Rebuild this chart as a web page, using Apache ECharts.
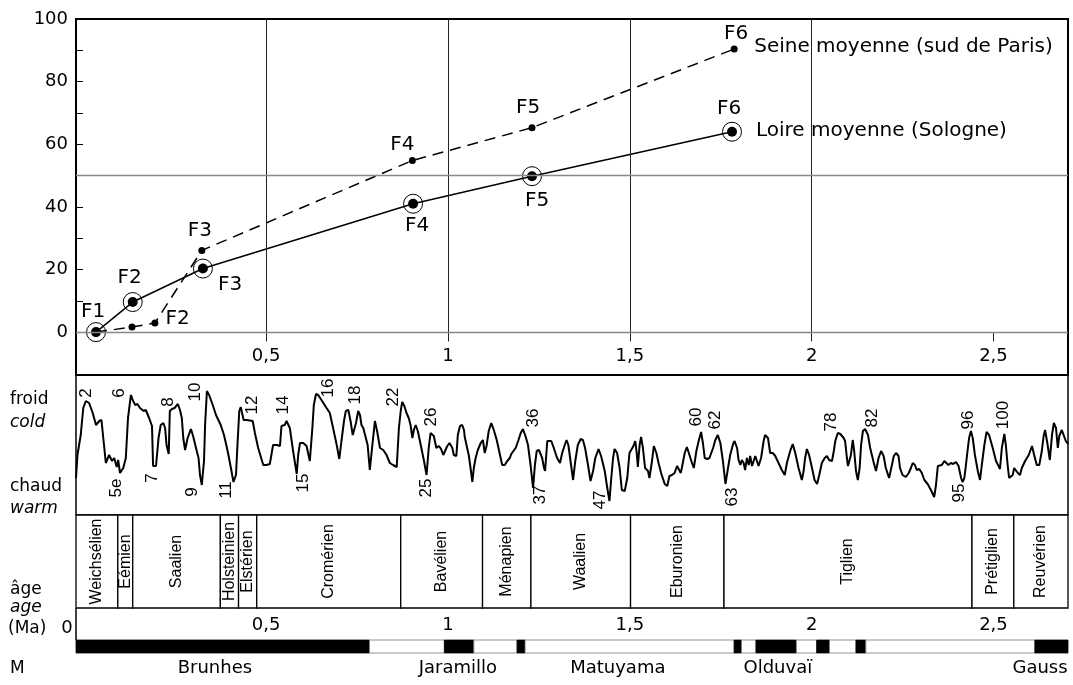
<!DOCTYPE html>
<html>
<head>
<meta charset="utf-8">
<title>Terrasses Loire / Seine</title>
<script src="https://cdn.jsdelivr.net/npm/echarts@6/dist/echarts.min.js"></script>
<style>
  html, body { margin: 0; padding: 0; background: #fff; }
  #main { width: 1073px; height: 685px; }
</style>
</head>
<body>
<div id="main"></div>
<script>
// ---- terraces: age (Ma) / relative height (m)
var loireAges    = [0.032, 0.133, 0.326, 0.904, 1.231, 1.781];
var loireHeights = [0, 9.6, 20.3, 41, 49.8, 64];
var loireLabels  = ['F1', 'F2', 'F3', 'F4', 'F5', 'F6'];

var seineAges    = [0.032, 0.131, 0.194, 0.323, 0.902, 1.231, 1.787];
var seineHeights = [0, 1.6, 2.9, 26.1, 54.8, 65.3, 90.4];
var seineLabels  = ['', '', 'F2', 'F3', 'F4', 'F5', 'F6'];

var heightTicks = [0, 20, 40, 60, 80, 100];
var heightMinorTicks = [0, 10, 20, 30, 40, 50, 60, 70, 80, 90, 100];
var ageTicks = [0.5, 1, 1.5, 2, 2.5];
var gridAges = [0.5, 1, 1.5, 2];
var gridHeights = [0, 50];

// ---- oxygen isotope curve: [age (Ma), relative cold index]
var isoCurve = [[-0.023,37],[-0.019,60],[-0.010,80],[-0.003,107],[0.004,114],[0.013,112],[0.023,102],[0.032,90],[0.041,94],[0.047,95],[0.054,70],[0.059,52],[0.068,60],[0.076,54],[0.082,57],[0.089,48],[0.093,55],[0.098,42],[0.107,47],[0.114,57],[0.120,97],[0.128,120],[0.134,114],[0.140,110],[0.146,111],[0.153,107],[0.158,109],[0.163,104],[0.169,105],[0.178,97],[0.186,89],[0.189,49],[0.197,49],[0.204,77],[0.210,90],[0.217,92],[0.222,87],[0.226,70],[0.232,61],[0.235,104],[0.241,106],[0.248,107],[0.257,111],[0.263,105],[0.268,97],[0.272,77],[0.277,65],[0.284,77],[0.293,86],[0.299,79],[0.307,67],[0.314,57],[0.318,40],[0.323,30],[0.329,54],[0.332,90],[0.337,124],[0.343,120],[0.353,110],[0.362,100],[0.375,90],[0.384,80],[0.394,64],[0.403,47],[0.410,33],[0.417,40],[0.421,70],[0.426,104],[0.430,108],[0.435,100],[0.438,95],[0.446,95],[0.463,94],[0.469,82],[0.478,67],[0.492,50],[0.501,50],[0.510,51],[0.519,70],[0.524,72],[0.530,70],[0.538,69],[0.542,89],[0.547,87],[0.551,90],[0.556,94],[0.561,95],[0.565,87],[0.574,64],[0.584,41],[0.588,60],[0.593,72],[0.602,72],[0.611,69],[0.620,54],[0.627,87],[0.631,110],[0.637,121],[0.643,120],[0.652,115],[0.666,107],[0.675,102],[0.684,87],[0.694,70],[0.701,56],[0.707,74],[0.714,94],[0.719,104],[0.726,105],[0.732,94],[0.738,80],[0.742,79],[0.747,92],[0.753,104],[0.758,100],[0.762,90],[0.767,87],[0.772,87],[0.779,70],[0.785,45],[0.792,70],[0.799,94],[0.805,84],[0.813,67],[0.822,65],[0.831,60],[0.840,52],[0.849,50],[0.859,48],[0.865,87],[0.870,104],[0.874,113],[0.880,109],[0.886,102],[0.892,97],[0.897,90],[0.902,77],[0.906,85],[0.911,90],[0.917,84],[0.925,70],[0.934,54],[0.941,40],[0.947,67],[0.952,82],[0.957,84],[0.961,79],[0.968,67],[0.975,69],[0.981,66],[0.987,60],[0.992,58],[0.998,69],[1.004,72],[1.012,67],[1.016,60],[1.023,59],[1.027,80],[1.033,89],[1.039,90],[1.044,85],[1.046,78],[1.051,78],[1.057,60],[1.062,47],[1.067,33],[1.071,47],[1.076,57],[1.082,65],[1.090,72],[1.096,75],[1.101,62],[1.106,69],[1.112,84],[1.119,92],[1.126,85],[1.134,75],[1.140,65],[1.149,50],[1.156,50],[1.163,54],[1.170,57],[1.174,61],[1.179,62],[1.186,67],[1.193,74],[1.200,82],[1.206,86],[1.213,79],[1.220,70],[1.227,50],[1.234,27],[1.239,50],[1.244,64],[1.250,65],[1.255,64],[1.259,57],[1.264,47],[1.267,44],[1.273,74],[1.278,76],[1.284,74],[1.291,67],[1.300,57],[1.308,52],[1.314,62],[1.321,70],[1.326,75],[1.331,70],[1.344,35],[1.350,54],[1.357,70],[1.365,76],[1.371,75],[1.377,67],[1.385,50],[1.392,34],[1.399,44],[1.405,57],[1.414,66],[1.421,59],[1.431,44],[1.438,27],[1.444,14],[1.449,37],[1.454,57],[1.458,66],[1.465,62],[1.472,47],[1.478,25],[1.486,24],[1.493,37],[1.499,62],[1.504,64],[1.510,69],[1.515,74],[1.519,62],[1.522,48],[1.527,70],[1.531,78],[1.536,67],[1.542,47],[1.550,44],[1.554,37],[1.561,54],[1.566,69],[1.573,62],[1.579,52],[1.586,42],[1.596,31],[1.603,29],[1.609,39],[1.616,40],[1.623,42],[1.630,49],[1.634,49],[1.640,42],[1.643,47],[1.651,62],[1.657,68],[1.664,60],[1.671,52],[1.676,47],[1.683,64],[1.690,75],[1.696,83],[1.701,72],[1.706,57],[1.713,56],[1.719,57],[1.724,57],[1.729,67],[1.735,75],[1.742,80],[1.749,72],[1.756,54],[1.763,31],[1.770,47],[1.776,60],[1.784,71],[1.788,74],[1.795,67],[1.799,55],[1.804,50],[1.808,55],[1.813,52],[1.817,45],[1.822,57],[1.827,50],[1.831,59],[1.836,49],[1.840,48],[1.845,59],[1.850,60],[1.854,49],[1.861,57],[1.868,74],[1.872,80],[1.880,77],[1.886,62],[1.893,62],[1.900,59],[1.909,52],[1.918,45],[1.926,40],[1.932,52],[1.941,64],[1.948,71],[1.955,62],[1.964,47],[1.973,35],[1.978,44],[1.982,57],[1.987,66],[1.993,60],[2.001,47],[2.008,35],[2.015,31],[2.021,40],[2.028,52],[2.036,57],[2.042,59],[2.048,55],[2.056,54],[2.061,64],[2.065,74],[2.072,82],[2.079,81],[2.088,77],[2.092,74],[2.097,57],[2.100,49],[2.103,47],[2.108,60],[2.113,75],[2.117,64],[2.122,44],[2.127,35],[2.132,47],[2.136,70],[2.141,84],[2.147,86],[2.155,80],[2.161,67],[2.171,52],[2.177,44],[2.184,57],[2.191,64],[2.198,59],[2.204,47],[2.213,37],[2.219,47],[2.226,59],[2.232,62],[2.239,59],[2.243,47],[2.250,40],[2.259,38],[2.267,42],[2.273,47],[2.278,52],[2.284,50],[2.289,45],[2.296,46],[2.303,42],[2.310,35],[2.319,31],[2.328,25],[2.337,18],[2.342,30],[2.347,49],[2.351,51],[2.358,50],[2.365,54],[2.369,54],[2.376,50],[2.383,52],[2.389,51],[2.397,53],[2.404,49],[2.411,37],[2.415,33],[2.420,37],[2.424,49],[2.429,65],[2.433,77],[2.438,84],[2.443,77],[2.449,60],[2.457,44],[2.463,35],[2.468,50],[2.475,70],[2.481,83],[2.488,80],[2.498,67],[2.507,54],[2.518,46],[2.523,67],[2.530,81],[2.534,70],[2.539,50],[2.543,37],[2.548,35],[2.553,40],[2.557,47],[2.562,48],[2.567,42],[2.573,40],[2.578,47],[2.587,54],[2.597,60],[2.606,69],[2.612,60],[2.619,50],[2.626,50],[2.633,64],[2.638,79],[2.642,85],[2.649,70],[2.655,55],[2.661,80],[2.666,92],[2.672,87],[2.677,67],[2.681,79],[2.688,85],[2.693,80],[2.699,74],[2.705,71]];

// isotope stage numbers and where they are written
var misNames  = ['2','6','8','10','12','14','16','18','22','26','36','5e','7','9','11','15','25','37','47','60','62','63','78','82','95','96','100'];
var misAges   = [0.006,0.095,0.232,0.304,0.463,0.546,0.670,0.744,0.849,0.953,1.234,0.089,0.186,0.298,0.389,0.601,0.939,1.253,1.418,1.682,1.734,1.781,2.053,2.166,2.405,2.430,2.526];
var misLevels = [122,122,113,123,110,110,127,120,118,98,97,27,37,23,25,32,27,20,15,98,95,18,93,97,22,95,100];

// ---- chronostratigraphic stages (boundaries in Ma)
var stageNames  = ['Weichsélien','Eémien','Saalien','Holsteinien','Elstérien','Cromérien','Bavélien','Ménapien','Waalien','Eburonien','Tiglien','Prétiglien','Reuvérien'];
var stageBounds = [-0.023, 0.092, 0.133, 0.374, 0.424, 0.474, 0.870, 1.095, 1.228, 1.502, 1.759, 2.441, 2.556, 2.705];

// ---- magnetostratigraphy: normal polarity intervals (black), the rest reversed
var normalStarts = [-0.023, 0.990, 1.190, 1.787, 1.847, 2.014, 2.122, 2.614];
var normalEnds   = [0.784, 1.071, 1.212, 1.807, 1.958, 2.049, 2.149, 2.705];
var chronNames = ['Brunhes', 'Jaramillo', 'Matuyama', 'Olduvaï', 'Gauss'];
var chronAges  = [0.359, 1.027, 1.467, 1.907, 2.628];

var AGE_MIN = -0.023, AGE_MAX = 2.705;
var SANS = '"DejaVu Sans", sans-serif';
var NARROW = '"Liberation Sans", Arial, sans-serif';

var minorAgeTicks = [];
for (var t = 1; t <= 26; t++) minorAgeTicks.push(t / 10);

function comma(v) { return String(v).replace('.', ','); }

// label placement of the F-points
var loireLabelStyle = [
    {position: 'top', distance: 5, offset: [-3, 0]},
    {position: 'top', distance: 9, offset: [-3, 0]},
    {position: 'right', distance: 10, offset: [0, 16]},
    {position: 'bottom', distance: 7, offset: [4, 0]},
    {position: 'bottom', distance: 10, offset: [5, 0]},
    {position: 'top', distance: 8, offset: [-3, 0]}
];
var seineLabelStyle = [
    {}, {},
    {position: 'right', distance: 7, offset: [0, -4]},
    {position: 'top', distance: 6, offset: [-2, 0]},
    {position: 'top', distance: 2, offset: [-10, 0]},
    {position: 'top', distance: 6, offset: [-4, 0]},
    {position: 'top', distance: 2, offset: [2, 0]}
];

var loireData = loireAges.map(function (a, i) {
    return {value: [a, loireHeights[i]], name: loireLabels[i],
        label: Object.assign({show: true}, loireLabelStyle[i])};
});
var seineData = seineAges.map(function (a, i) {
    return {value: [a, seineHeights[i]], name: seineLabels[i],
        label: Object.assign({show: seineLabels[i] !== ''}, seineLabelStyle[i])};
});

var stageData = stageNames.map(function (n, i) {
    return {value: [stageBounds[i], stageBounds[i + 1]], name: n};
});

var magData = [];
for (var i = 0; i < normalStarts.length; i++) {
    magData.push({value: [normalStarts[i], normalEnds[i]], normal: true});
    if (i < normalStarts.length - 1) {
        magData.push({value: [normalEnds[i], normalStarts[i + 1]], normal: false});
    }
}

// reference lines of the upper panel: verticals hang a little below 0 like ticks
var refLines = gridAges.map(function (a) {
    return [{coord: [a, -3]}, {coord: [a, 100]}];
});
refLines.push([{coord: [2.5, -3]}, {coord: [2.5, 0]}]);
gridHeights.forEach(function (h) {
    refLines.push({yAxis: h, lineStyle: {color: '#888', width: 1.3}});
});

var myChart = echarts.init(document.getElementById('main'));

function hiddenX(idx) {
    return {gridIndex: idx, type: 'value', min: AGE_MIN, max: AGE_MAX, show: false};
}
function hiddenY(idx, min, max) {
    return {gridIndex: idx, type: 'value', min: min, max: max, show: false};
}

var option = {
    animation: false,
    backgroundColor: '#fff',
    textStyle: {fontFamily: SANS, color: '#000'},
    grid: [
        {left: 76, right: 5, top: 19, height: 356, show: true, borderColor: '#000', borderWidth: 2},
        {left: 76, right: 5, top: 375, height: 140, show: true, borderColor: '#000', borderWidth: 1.5},
        {left: 76, right: 5, top: 515, height: 93},
        {left: 76, right: 5, top: 640, height: 13}
    ],
    xAxis: [
        {
            gridIndex: 0, type: 'value', min: AGE_MIN, max: AGE_MAX,
            axisLine: {show: false, onZero: false},
            axisTick: {show: false},
            axisLabel: {customValues: ageTicks, inside: true, formatter: comma, fontSize: 18, fontFamily: SANS, color: '#000', margin: 10},
            splitLine: {show: false}
        },
        hiddenX(1),
        hiddenX(2),
        {
            gridIndex: 3, type: 'value', position: 'top', min: AGE_MIN, max: AGE_MAX,
            axisLine: {show: false},
            axisTick: {show: true, customValues: minorAgeTicks, length: 6, lineStyle: {color: '#000', width: 1.2}},
            axisLabel: {customValues: ageTicks, formatter: comma, fontSize: 18, fontFamily: SANS, color: '#000', margin: 6},
            splitLine: {show: false}
        }
    ],
    yAxis: [
        {
            gridIndex: 0, type: 'value', min: -13.7, max: 100,
            axisLine: {show: true, onZero: false, lineStyle: {color: '#000', width: 2}},
            axisTick: {show: true, inside: true, length: 7, customValues: heightMinorTicks, lineStyle: {color: '#000'}},
            axisLabel: {customValues: heightTicks, fontSize: 18, fontFamily: SANS, color: '#000', margin: 8},
            splitLine: {show: false}
        },
        hiddenY(1, 0, 140),
        hiddenY(2, 0, 1),
        hiddenY(3, 0, 1)
    ],
    graphic: [
        {type: 'text', x: 10, y: 400, style: {text: 'froid', font: '17px ' + SANS, fill: '#000', verticalAlign: 'middle'}},
        {type: 'text', x: 10, y: 423, style: {text: 'cold', font: 'italic 17px ' + SANS, fill: '#000', verticalAlign: 'middle'}},
        {type: 'text', x: 10, y: 487, style: {text: 'chaud', font: '17px ' + SANS, fill: '#000', verticalAlign: 'middle'}},
        {type: 'text', x: 10, y: 509, style: {text: 'warm', font: 'italic 17px ' + SANS, fill: '#000', verticalAlign: 'middle'}},
        {type: 'text', x: 10, y: 590, style: {text: 'âge', font: '17px ' + SANS, fill: '#000', verticalAlign: 'middle'}},
        {type: 'text', x: 10, y: 608, style: {text: 'age', font: 'italic 17px ' + SANS, fill: '#000', verticalAlign: 'middle'}},
        {type: 'text', x: 8, y: 629, style: {text: '(Ma)', font: '17px ' + SANS, fill: '#000', verticalAlign: 'middle'}},
        {type: 'text', x: 67, y: 628, style: {text: '0', font: '18px ' + SANS, fill: '#000', align: 'center', verticalAlign: 'middle'}},
        {type: 'text', x: 10, y: 669, style: {text: 'M', font: '17px ' + SANS, fill: '#000', verticalAlign: 'middle'}},
        {type: 'line', shape: {x1: 76, y1: 608, x2: 76, y2: 640}, style: {stroke: '#000', lineWidth: 1.5}}
    ],
    series: [
        {
            name: 'Loire moyenne (Sologne)',
            type: 'line', xAxisIndex: 0, yAxisIndex: 0,
            data: loireData,
            symbol: 'circle', symbolSize: 10,
            itemStyle: {color: '#000'},
            lineStyle: {color: '#000', width: 1.5},
            label: {formatter: '{b}', fontSize: 20, fontFamily: SANS, color: '#000'},
            endLabel: {show: true, formatter: function (p) { return p.seriesName; }, distance: 24, offset: [0, -1], fontSize: 20, fontFamily: SANS, color: '#000'},
            markLine: {
                silent: true, symbol: ['none', 'none'], label: {show: false},
                lineStyle: {color: '#222', width: 1, type: 'solid'},
                data: refLines
            },
            z: 3
        },
        {
            name: 'rings',
            type: 'scatter', xAxisIndex: 0, yAxisIndex: 0,
            data: loireAges.map(function (a, i) { return [a, loireHeights[i]]; }),
            symbol: 'circle', symbolSize: 19,
            itemStyle: {color: 'rgba(0,0,0,0)', borderColor: '#000', borderWidth: 1, opacity: 1},
            silent: true, z: 4
        },
        {
            name: 'Seine moyenne (sud de Paris)',
            type: 'line', xAxisIndex: 0, yAxisIndex: 0,
            data: seineData,
            symbol: 'circle', symbolSize: 7,
            itemStyle: {color: '#000'},
            lineStyle: {color: '#000', width: 1.5, type: [11, 7]},
            label: {formatter: '{b}', fontSize: 20, fontFamily: SANS, color: '#000'},
            endLabel: {show: true, formatter: function (p) { return p.seriesName; }, distance: 20, offset: [0, -2], fontSize: 20, fontFamily: SANS, color: '#000'},
            z: 3
        },
        {
            name: 'isotopes',
            type: 'line', xAxisIndex: 1, yAxisIndex: 1,
            data: isoCurve,
            symbol: 'none',
            lineStyle: {color: '#000', width: 2}
        },
        {
            name: 'stades isotopiques',
            type: 'scatter', xAxisIndex: 1, yAxisIndex: 1,
            symbolSize: 0,
            itemStyle: {opacity: 1},
            data: misAges.map(function (a, i) { return {value: [a, misLevels[i]], name: misNames[i]}; }),
            label: {show: true, position: 'inside', rotate: 90, formatter: '{b}', fontSize: 17, fontFamily: NARROW, color: '#000', opacity: 1},
            silent: true
        },
        {
            name: 'étages',
            type: 'custom', xAxisIndex: 2, yAxisIndex: 2,
            data: stageData,
            encode: {x: [0, 1]},
            renderItem: function (params, api) {
                var p0 = api.coord([api.value(0), 1]);
                var p1 = api.coord([api.value(1), 0]);
                var w = p1[0] - p0[0], h = p1[1] - p0[1];
                return {
                    type: 'group',
                    children: [
                        {type: 'rect', shape: {x: p0[0], y: p0[1], width: w, height: h},
                            style: {fill: '#fff', stroke: '#000', lineWidth: 1.3}},
                        {type: 'text', x: p0[0] + w / 2, y: p0[1] + h / 2, rotation: Math.PI / 2,
                            style: {text: stageNames[params.dataIndex], font: '16px ' + NARROW, fill: '#000',
                                align: 'center', verticalAlign: 'middle'}}
                    ]
                };
            }
        },
        {
            name: 'paléomagnétisme',
            type: 'custom', xAxisIndex: 3, yAxisIndex: 3,
            data: magData,
            encode: {x: [0, 1]},
            renderItem: function (params, api) {
                var p0 = api.coord([api.value(0), 1]);
                var p1 = api.coord([api.value(1), 0]);
                var normal = magData[params.dataIndex].normal;
                return {
                    type: 'rect',
                    shape: {x: p0[0], y: p0[1], width: p1[0] - p0[0], height: p1[1] - p0[1]},
                    style: {fill: normal ? '#000' : '#fff', stroke: normal ? '#000' : '#777', lineWidth: 0.8}
                };
            }
        },
        {
            name: 'chrons',
            type: 'scatter', xAxisIndex: 3, yAxisIndex: 3,
            symbolSize: 0,
            itemStyle: {opacity: 1},
            data: chronAges.map(function (a, i) { return {value: [a, 0], name: chronNames[i]}; }),
            label: {show: true, position: 'bottom', distance: 6, formatter: '{b}', fontSize: 18, fontFamily: SANS, color: '#000', opacity: 1},
            silent: true
        }
    ]
};

myChart.setOption(option);
</script>
</body>
</html>
